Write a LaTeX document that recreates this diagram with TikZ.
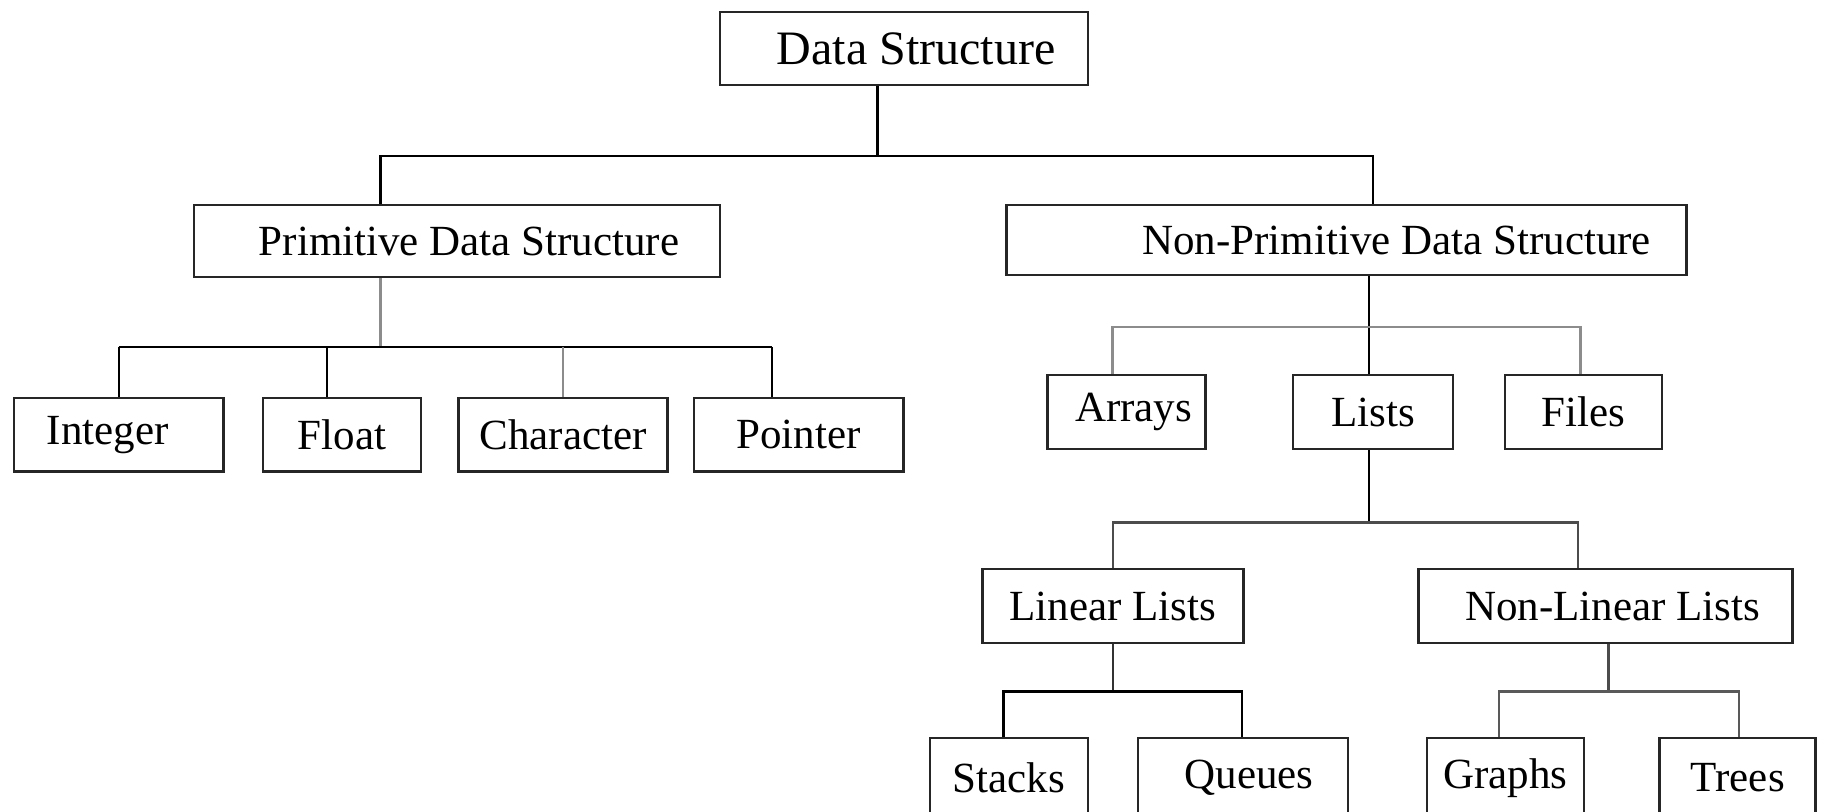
\documentclass[tikz,border=0pt]{standalone}
\usepackage{fontspec}
\setmainfont{Liberation Serif}
\usepackage{tikz}

\begin{document}
\begin{tikzpicture}[x=0.5pt,y=-0.5pt,
  box/.style={draw=black!85,line width=1.3pt,inner sep=0pt,
    font=\fontsize{21.5}{24}\selectfont},
  wire/.style={black,line width=1.2pt},
  greywire/.style={black!45,line width=1.3pt}]
\useasboundingbox (0,0) rectangle (1825,812);
\clip (0,0) rectangle (1825,812);

% top levels
\node[box,minimum width=184pt,minimum height=36.5pt,font=\fontsize{24}{26}\selectfont] (ds) at (904,48.5) {\hspace*{12pt}Data Structure};
\node[box,minimum width=263pt,minimum height=36pt] (prim) at (457,241) {\hspace*{12pt}Primitive Data Structure};
\node[box,minimum width=340pt,minimum height=35pt] (nonprim) at (1346.6,240) {\hspace*{50pt}Non-Primitive Data Structure};

% primitive types
\node[box,minimum width=104.7pt,minimum height=36.5pt] (integer) at (118.7,434.7) {Integer\hspace*{11pt}};
\node[box,minimum width=79pt,minimum height=36.5pt] (float) at (342,434.7) {Float};
\node[box,minimum width=104.7pt,minimum height=36.5pt] (character) at (563,434.7) {Character};
\node[box,minimum width=104.7pt,minimum height=36.5pt] (pointer) at (798.5,434.7) {Pointer};

% non-primitive types
\node[box,minimum width=79pt,minimum height=37pt] (arrays) at (1126.7,412) {\hspace*{7pt}Arrays};
\node[box,minimum width=80pt,minimum height=37pt] (lists) at (1373,412) {Lists};
\node[box,minimum width=78.5pt,minimum height=37pt] (files) at (1583.5,412) {Files};

\node[box,minimum width=130.5pt,minimum height=37pt] (linear) at (1112.7,606) {Linear Lists};
\node[box,minimum width=187pt,minimum height=37pt] (nonlinear) at (1605.6,606) {\hspace*{7pt}Non-Linear Lists};

\node[box,minimum width=79pt,minimum height=40pt] (stacks) at (1009,778) {Stacks};
\node[box,minimum width=105pt,minimum height=40pt] (queues) at (1243,778) {\hspace*{6pt}Queues};
\node[box,minimum width=78.5pt,minimum height=40pt] (graphs) at (1505.5,778) {Graphs};
\node[box,minimum width=78pt,minimum height=40pt] (trees) at (1737.7,778) {Trees};

% connectors
\draw[wire] (ds.south -| 877.6,0) -- (877.6,156);
\draw[wire] (prim.north -| 380.6,0) |- (1373,156) -- (nonprim.north -| 1373,0);

\draw[greywire] (prim.south -| 380.6,0) -- (380.6,346.8);
\draw[wire] (118.7,346.8) -- (771.7,346.8);
\foreach \n/\x in {integer/118.7,float/327,pointer/771.7}
  \draw[wire] (\x,346.8) -- (\n.north -| \x,0);
\draw[greywire] (563,346.8) -- (character.north);

\draw[wire] (nonprim.south -| 1368.7,0) -- (lists.north -| 1368.7,0);
\draw[greywire] (arrays.north -| 1112.7,0) |- (1580.6,327) -- (files.north -| 1580.6,0);

\draw[wire] (lists.south -| 1368.7,0) -- (1368.7,522.6);
\draw[wire,black!70] (linear.north -| 1112.7,0) |- (1578,522.6) -- (nonlinear.north -| 1578,0);

\draw[wire,black!80] (linear.south -| 1112.7,0) -- (1112.7,691.4);
\draw[wire] (stacks.north -| 1003.3,0) |- (1242,691.4) -- (queues.north -| 1242,0);

\draw[wire,black!70] (nonlinear.south -| 1608.5,0) -- (1608.5,691.4);
\draw[greywire,black!65] (graphs.north -| 1499,0) |- (1739,691.4) -- (trees.north -| 1739,0);
\end{tikzpicture}
\end{document}
